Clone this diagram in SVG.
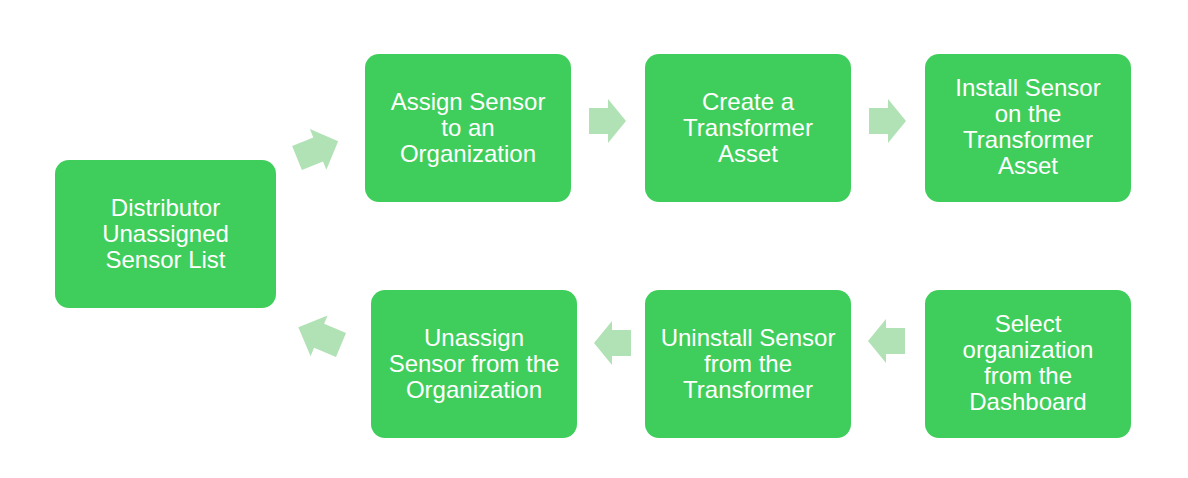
<svg xmlns="http://www.w3.org/2000/svg" width="1188" height="478" viewBox="0 0 1188 478">
<style>
.b{fill:#3fce5b}
.a{fill:#b1e2b5}
text{font-family:"Liberation Sans",Arial,sans-serif;font-size:24px;fill:#fff;text-anchor:middle}
</style>
<defs><path id="arr" d="M0,-13 H19 V-22 L37,0 L19,22 V13 H0 Z"/></defs>
<rect width="1188" height="478" fill="#fff"/>
<g id="n1"><rect class="b" x="55" y="160" width="221" height="148" rx="14"/><text x="165.5" y="216">Distributor</text><text x="165.5" y="242">Unassigned</text><text x="165.5" y="268">Sensor List</text></g>
<g id="n2"><rect class="b" x="365" y="54" width="206" height="148" rx="14"/><text x="468" y="110">Assign Sensor</text><text x="468" y="136">to an</text><text x="468" y="162">Organization</text></g>
<g id="n3"><rect class="b" x="645" y="54" width="206" height="148" rx="14"/><text x="748" y="110">Create a</text><text x="748" y="136">Transformer</text><text x="748" y="162">Asset</text></g>
<g id="n4"><rect class="b" x="925" y="54" width="206" height="148" rx="14"/><text x="1028" y="96">Install Sensor</text><text x="1028" y="122">on the</text><text x="1028" y="148">Transformer</text><text x="1028" y="174">Asset</text></g>
<g id="n5"><rect class="b" x="925" y="290" width="206" height="148" rx="14"/><text x="1028" y="332">Select</text><text x="1028" y="358">organization</text><text x="1028" y="384">from the</text><text x="1028" y="410">Dashboard</text></g>
<g id="n6"><rect class="b" x="645" y="290" width="206" height="148" rx="14"/><text x="748" y="346">Uninstall Sensor</text><text x="748" y="372">from the</text><text x="748" y="398">Transformer</text></g>
<g id="n7"><rect class="b" x="371" y="290" width="206" height="148" rx="14"/><text x="474" y="346">Unassign</text><text x="474" y="372">Sensor from the</text><text x="474" y="398">Organization</text></g>
<g id="connectors" class="a">
<use href="#arr" transform="translate(297,158) rotate(-22) scale(1.2,1)"/>
<use href="#arr" transform="translate(589,121)"/>
<use href="#arr" transform="translate(869,121)"/>
<use href="#arr" transform="translate(905,341) rotate(180)"/>
<use href="#arr" transform="translate(631,343) rotate(180)"/>
<use href="#arr" transform="translate(341,345) rotate(202.7) scale(1.25,1)"/>
</g>
</svg>
